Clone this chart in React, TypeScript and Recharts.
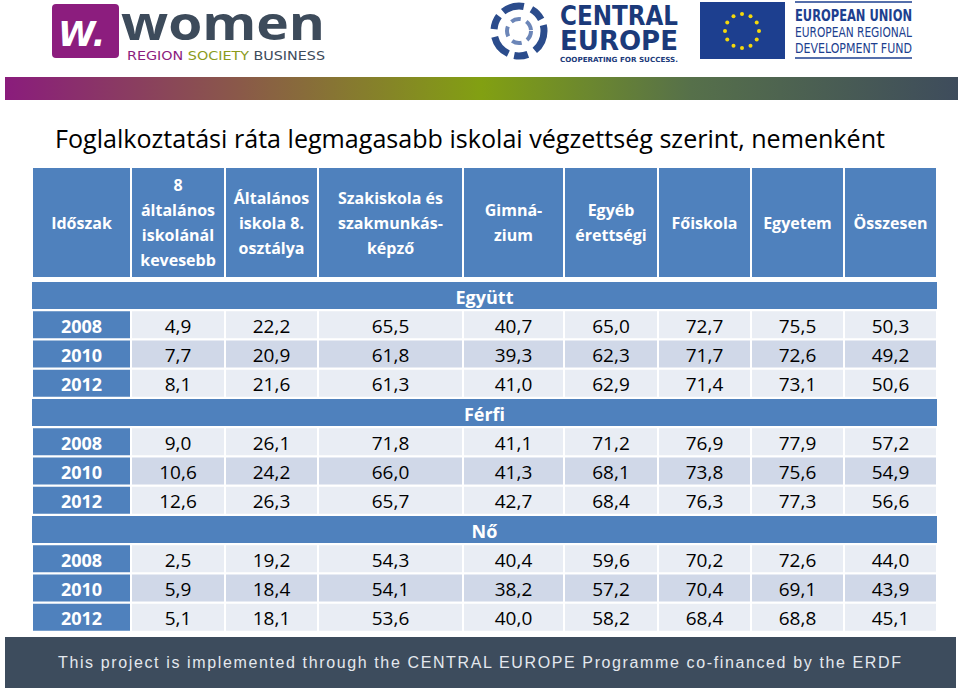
import React from "react";
import { BarChart, Bar, XAxis, YAxis } from "recharts";

// --- adatok a képről ---
const TITLE = "Foglalkoztatási ráta legmagasabb iskolai végzettség szerint, nemenként";
const FOOTER = "This project is implemented through the CENTRAL EUROPE Programme co-financed by the ERDF";

const headers = [
  "Időszak",
  "8\náltalános\niskolánál\nkevesebb",
  "Általános\niskola 8.\nosztálya",
  "Szakiskola és\nszakmunkás-\nképző",
  "Gimná-\nzium",
  "Egyéb\nérettségi",
  "Főiskola",
  "Egyetem",
  "Összesen",
];
const groups = ["Együtt", "Férfi", "Nő"];
const years = ["2008", "2010", "2012"];

const egyutt2008 = [4.9, 22.2, 65.5, 40.7, 65.0, 72.7, 75.5, 50.3];
const egyutt2010 = [7.7, 20.9, 61.8, 39.3, 62.3, 71.7, 72.6, 49.2];
const egyutt2012 = [8.1, 21.6, 61.3, 41.0, 62.9, 71.4, 73.1, 50.6];
const ferfi2008 = [9.0, 26.1, 71.8, 41.1, 71.2, 76.9, 77.9, 57.2];
const ferfi2010 = [10.6, 24.2, 66.0, 41.3, 68.1, 73.8, 75.6, 54.9];
const ferfi2012 = [12.6, 26.3, 65.7, 42.7, 68.4, 76.3, 77.3, 56.6];
const no2008 = [2.5, 19.2, 54.3, 40.4, 59.6, 70.2, 72.6, 44.0];
const no2010 = [5.9, 18.4, 54.1, 38.2, 57.2, 70.4, 69.1, 43.9];
const no2012 = [5.1, 18.1, 53.6, 40.0, 58.2, 68.4, 68.8, 45.1];

// --- elrendezés ---
const COL_W = [99, 94, 93, 145, 101, 94, 93, 93, 93];
const TOTAL_W = COL_W.reduce((a, b) => a + b, 0);
const BLUE = "#4F81BD";
const BAND = ["#E9EDF4", "#D0D8E8"];
const FONT = "'Open Sans', 'Noto Sans', sans-serif";

const fmt = (v: number) => v.toFixed(1).replace(".", ",");

function widths(merged: boolean) {
  const o: Record<string, number> = {};
  COL_W.forEach((w, i) => {
    o[`w${i}`] = merged ? (i === 0 ? TOTAL_W : 0) : w;
  });
  return o;
}

const groupValues = [
  [egyutt2008, egyutt2010, egyutt2012],
  [ferfi2008, ferfi2010, ferfi2012],
  [no2008, no2010, no2012],
];

const headerRows = [{ key: "h", kind: "header", texts: headers, band: 0, ...widths(false) }];

const bodyRows: any[] = [];
groups.forEach((g, gi) => {
  bodyRows.push({ key: `s${gi}`, kind: "section", texts: [g], band: 0, ...widths(true) });
  years.forEach((y, yi) => {
    bodyRows.push({
      key: `${gi}-${y}`,
      kind: "data",
      band: yi % 2,
      texts: [y, ...groupValues[gi][yi].map(fmt)],
      ...widths(false),
    });
  });
});

function makeCell(col: number) {
  return (props: any) => {
    const { x, y, width, height, payload } = props;
    if (!width || width <= 0) return <g />;
    const kind = payload.kind;
    const text: string = payload.texts[col] ?? "";
    const fill = kind === "data" && col > 0 ? BAND[payload.band] : BLUE;
    const rx = kind === "section" ? x : x + 1;
    const rw = kind === "section" ? width : width - 2;
    const cx = x + width / 2;
    const cy = y + height / 2;
    let label: React.ReactNode = null;
    if (kind === "header") {
      const lines = text.split("\n");
      label = lines.map((ln, i) => (
        <text
          key={i}
          x={cx}
          y={cy + (i - (lines.length - 1) / 2) * 25}
          textAnchor="middle"
          dominantBaseline="central"
          fill="#fff"
          fontFamily={FONT}
          fontWeight={700}
          fontSize={16}
        >
          {ln}
        </text>
      ));
    } else {
      const white = kind === "section" || col === 0;
      label = (
        <text
          x={cx}
          y={cy + 1}
          textAnchor="middle"
          dominantBaseline="central"
          fill={white ? "#fff" : "#000"}
          fontFamily={FONT}
          fontWeight={white ? 700 : 400}
          fontSize={white ? 18 : 19}
        >
          {text}
        </text>
      );
    }
    return (
      <g>
        <rect x={rx} y={y + 1} width={rw} height={height - 2} fill={fill} />
        {label}
      </g>
    );
  };
}

function TableChart({ rows, height }: { rows: any[]; height: number }) {
  return (
    <BarChart
      width={TOTAL_W}
      height={height}
      data={rows}
      layout="vertical"
      margin={{ top: 0, right: 0, bottom: 0, left: 0 }}
      barCategoryGap={0}
      barGap={0}
    >
      <XAxis type="number" domain={[0, TOTAL_W]} hide />
      <YAxis type="category" dataKey="key" hide />
      {COL_W.map((_, i) => (
        <Bar
          key={i}
          dataKey={`w${i}`}
          stackId="t"
          isAnimationActive={false}
          shape={makeCell(i)}
        />
      ))}
    </BarChart>
  );
}

function Logos() {
  const stars = Array.from({ length: 12 }, (_, i) => {
    const a = (i / 12) * Math.PI * 2;
    return [742 + Math.cos(a) * 17, 31 + Math.sin(a) * 17];
  });
  return (
    <svg width={960} height={70} style={{ position: "absolute", left: 0, top: 0 }}>
      {/* women */}
      <rect x={52} y={4} width={67} height={54} rx={4} fill="#8C1D7E" />
      <text x={58} y={46} fontFamily="'DejaVu Sans', sans-serif" fontWeight={700} fontSize={34} fill="#fff" fontStyle="italic">
        W.
      </text>
      <text x={121} y={40} fontFamily="'Open Sans', sans-serif" fontWeight={700} fontSize={46} fill="#3D4B5B" textLength={204} lengthAdjust="spacingAndGlyphs">
        women
      </text>
      <text x={127} y={60} fontFamily="'DejaVu Sans Condensed', sans-serif" fontSize={12} textLength={198} lengthAdjust="spacingAndGlyphs">
        <tspan fill="#8C1D7E">REGION </tspan>
        <tspan fill="#8A9B1C">SOCIETY </tspan>
        <tspan fill="#3D4B5B">BUSINESS</tspan>
      </text>
      {/* central europe */}
      <circle cx={519} cy={31} r={25} fill="none" stroke="#2B4C8C" strokeWidth={7} strokeDasharray="22 8 14 6" />
      <circle cx={519} cy={31} r={12} fill="none" stroke="#6C86B8" strokeWidth={4} strokeDasharray="10 6" />
      <text x={560} y={25} fontFamily="'DejaVu Sans Condensed', sans-serif" fontWeight={700} fontSize={27} fill="#1B3A7A" textLength={118} lengthAdjust="spacingAndGlyphs">
        CENTRAL
      </text>
      <text x={560} y={50} fontFamily="'DejaVu Sans Condensed', sans-serif" fontWeight={700} fontSize={27} fill="#1B3A7A" textLength={118} lengthAdjust="spacingAndGlyphs">
        EUROPE
      </text>
      <text x={560} y={62} fontFamily="'DejaVu Sans Condensed', sans-serif" fontWeight={700} fontSize={7} fill="#1B3A7A" textLength={118} lengthAdjust="spacingAndGlyphs">
        COOPERATING FOR SUCCESS.
      </text>
      {/* EU */}
      <rect x={700} y={2} width={85} height={57} fill="#1D3F8F" />
      {stars.map(([sx, sy], i) => (
        <circle key={i} cx={sx} cy={sy} r={2} fill="#F5D90A" />
      ))}
      <line x1={795} x2={912} y1={2} y2={2} stroke="#1D3F8F" strokeWidth={1.5} />
      <line x1={795} x2={912} y1={58} y2={58} stroke="#1D3F8F" strokeWidth={1.5} />
      <text x={795} y={21} fontFamily="'DejaVu Sans Condensed', sans-serif" fontWeight={700} fontSize={15} fill="#1D3F8F" textLength={117} lengthAdjust="spacingAndGlyphs">
        EUROPEAN UNION
      </text>
      <text x={795} y={37} fontFamily="'DejaVu Sans Condensed', sans-serif" fontSize={14} fill="#1D3F8F" textLength={117} lengthAdjust="spacingAndGlyphs">
        EUROPEAN REGIONAL
      </text>
      <text x={795} y={53} fontFamily="'DejaVu Sans Condensed', sans-serif" fontSize={14} fill="#1D3F8F" textLength={117} lengthAdjust="spacingAndGlyphs">
        DEVELOPMENT FUND
      </text>
    </svg>
  );
}

export default function App() {
  return (
    <div style={{ position: "relative", width: 960, height: 691, background: "#fff", overflow: "hidden" }}>
      <style>{`body{margin:0}`}</style>
      <Logos />
      <div
        style={{
          position: "absolute",
          left: 5,
          top: 77,
          width: 953,
          height: 23,
          background:
            "linear-gradient(to right, #8A1C7C 0%, #8A5A48 25%, #82A012 50%, #56704A 72%, #3E4C5C 100%)",
        }}
      />
      <svg width={960} height={44} style={{ position: "absolute", left: 0, top: 118 }}>
        <text x={55} y={30} fontFamily={FONT} fontSize={25} fill="#000" textLength={830} lengthAdjust="spacingAndGlyphs">
          {TITLE}
        </text>
      </svg>
      <div style={{ position: "absolute", left: 32, top: 167 }}>
        <TableChart rows={headerRows} height={111} />
      </div>
      <div style={{ position: "absolute", left: 32, top: 281 }}>
        <TableChart rows={bodyRows} height={351} />
      </div>
      <svg width={951} height={51} style={{ position: "absolute", left: 5, top: 637 }}>
        <rect width={951} height={51} fill="#3D4C5D" />
        <text x={53} y={31} fontFamily="'Liberation Sans', Arial, sans-serif" fontSize={16} fill="#E4E8EE" textLength={843} lengthAdjust="spacing">
          {FOOTER}
        </text>
      </svg>
    </div>
  );
}
